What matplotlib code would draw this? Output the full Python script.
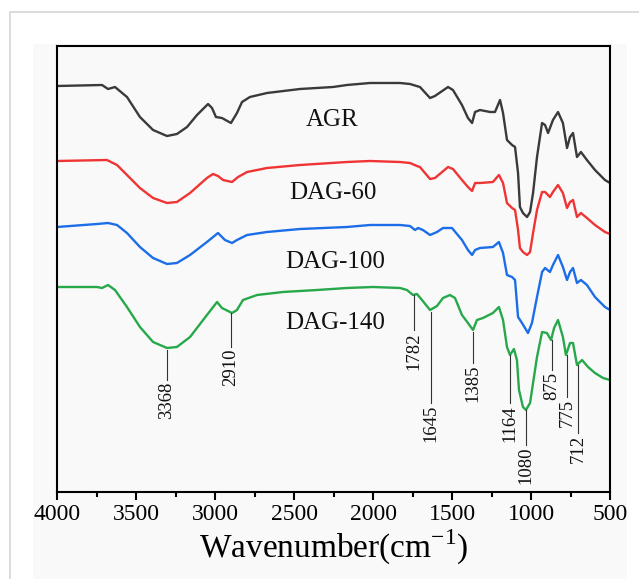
import matplotlib
matplotlib.use("Agg")
import matplotlib.pyplot as plt
from matplotlib.patches import Rectangle
from matplotlib.ticker import MultipleLocator

plt.rcParams['font.family'] = ['Liberation Serif', 'DejaVu Serif']

# FTIR spectra, wavenumber (cm-1) and offset transmittance (a.u.)
agr_wn = [4000, 3715, 3677, 3633, 3557, 3475, 3392, 3304, 3241, 3177,
          3114, 3044, 3019, 2994, 2956, 2899, 2861, 2829, 2779, 2671,
          2462, 2253, 2165, 2019, 1829, 1766, 1703, 1639, 1608, 1525,
          1494, 1437, 1399, 1373, 1354, 1323, 1259, 1228, 1196, 1177,
          1152, 1120, 1101, 1082, 1070, 1051, 1025, 1006, 987, 962,
          930, 911, 892, 861, 829, 798, 772, 753, 734, 709,
          684, 646, 595, 532, 500]
agr_t = [414, 415, 411, 413, 403, 383, 370, 364, 366, 373,
         385, 396, 392, 383, 382, 377, 387, 398, 403, 407,
         411, 413, 415, 417, 417, 416, 413, 402, 404, 413,
         410, 395, 382, 377, 388, 390, 388, 388, 400, 387,
         360, 355, 353, 327, 293, 287, 283, 288, 307, 343,
         377, 375, 367, 380, 388, 377, 352, 363, 367, 343,
         348, 340, 330, 320, 317]

dag60_wn = [4000, 3684, 3620, 3557, 3475, 3392, 3304, 3241, 3158, 3051,
            3013, 2981, 2949, 2892, 2854, 2797, 2671, 2462, 2165, 2019,
            1829, 1766, 1722, 1703, 1639, 1608, 1525, 1494, 1437, 1399,
            1373, 1354, 1323, 1241, 1203, 1177, 1152, 1120, 1101, 1082,
            1070, 1051, 1025, 1006, 987, 962, 930, 911, 880, 861,
            829, 798, 772, 753, 734, 709, 684, 646, 595, 532, 500]
dag60_t = [339, 340, 335, 325, 312, 302, 297, 298, 307, 322,
           326, 324, 320, 318, 323, 328, 332, 335, 338, 339,
           338, 337, 334, 333, 321, 322, 333, 331, 320, 313,
           309, 317, 317, 318, 325, 317, 297, 292, 290, 270,
           252, 248, 245, 248, 267, 290, 308, 308, 303, 308,
           315, 307, 292, 298, 300, 283, 287, 282, 275, 268, 266]

dag100_wn = [4000, 3747, 3677, 3620, 3557, 3475, 3392, 3304, 3241, 3158,
             3051, 2981, 2937, 2892, 2861, 2797, 2671, 2462, 2165, 2019,
             1829, 1766, 1734, 1715, 1684, 1639, 1595, 1557, 1500, 1437,
             1399, 1373, 1354, 1323, 1241, 1203, 1177, 1152, 1120, 1101,
             1082, 1057, 1038, 1019, 994, 962, 930, 911, 880, 861,
             829, 798, 772, 753, 734, 709, 684, 646, 595, 532, 500]
dag100_t = [273, 276, 277, 275, 267, 253, 242, 236, 237, 245,
            258, 267, 260, 257, 260, 265, 268, 271, 273, 275,
            275, 274, 270, 272, 270, 265, 268, 272, 272, 260,
            250, 245, 250, 252, 253, 258, 247, 225, 223, 220,
            183, 177, 172, 167, 177, 203, 228, 232, 228, 235,
            245, 233, 220, 228, 232, 217, 220, 215, 203, 193, 190]

dag140_wn = [4000, 3747, 3715, 3677, 3633, 3557, 3475, 3392, 3304, 3241,
             3158, 3051, 2987, 2956, 2892, 2861, 2823, 2734, 2570, 2354,
             2165, 2000, 1829, 1785, 1747, 1722, 1690, 1639, 1595, 1557,
             1513, 1481, 1437, 1399, 1367, 1342, 1304, 1241, 1203, 1177,
             1152, 1133, 1108, 1089, 1076, 1051, 1032, 1006, 987, 962,
             930, 899, 873, 854, 829, 798, 779, 753, 734, 709,
             677, 639, 595, 544, 500]
dag140_t = [213, 213, 212, 215, 210, 193, 173, 158, 152, 153,
            163, 185, 198, 192, 187, 190, 200, 205, 208, 210,
            212, 213, 212, 210, 205, 206, 200, 190, 194, 202,
            205, 202, 185, 177, 170, 180, 182, 187, 193, 180,
            153, 145, 151, 140, 110, 93, 90, 97, 117, 143,
            168, 167, 160, 172, 180, 163, 145, 157, 157, 135,
            140, 133, 127, 122, 120]

# sample names and where they sit on the plot
sample_names = ['AGR', 'DAG-60', 'DAG-100', 'DAG-140']
name_wn = [2260, 2253, 2240, 2240]
name_t = [380, 307, 238, 177]

# peak markers on the DAG-140 curve
peak_labels = ['3368', '2910', '1782', '1645', '1385', '1164', '1080', '875', '775', '712']
peak_wn = [3304, 2899, 1741, 1633, 1367, 1133, 1032, 867, 772, 703]
peak_top = [150, 187, 205, 188, 168, 145, 90, 160, 145, 135]
peak_bottom = [120, 153, 170, 97, 137, 97, 55, 130, 103, 67]

colors = ['#3a3a3a', '#f03434', '#1c6ee8', '#27a84a']

fig = plt.figure(figsize=(6.39, 5.79), dpi=100)
fig.patch.set_facecolor('white')

# light frame and panel behind the plot
frame = Rectangle((10 / 639, -0.1), 1.2, 1 - 12 / 579 + 0.1, transform=fig.transFigure,
                  facecolor='none', edgecolor='#d6d6d6', linewidth=1.2, zorder=-2)
panel = Rectangle((33 / 639, -0.1), (627 - 33) / 639, 1 - 44 / 579 + 0.1, transform=fig.transFigure,
                  facecolor='#f9f9f9', edgecolor='none', zorder=-1)
fig.patches.extend([frame, panel])

ax = fig.add_axes([57 / 639, 1 - 492 / 579, (610 - 57) / 639, (492 - 46) / 579])
ax.set_zorder(1)
ax.set_facecolor('#f9f9f9')

spectra = [(agr_wn, agr_t), (dag60_wn, dag60_t), (dag100_wn, dag100_t), (dag140_wn, dag140_t)]
for (wn, t), c in zip(spectra, colors):
    ax.plot(wn, t, color=c, linewidth=1.7, solid_joinstyle='round')

for name, x, y in zip(sample_names, name_wn, name_t):
    ax.text(x, y, name, fontsize=18, ha='center', va='center', color='#111111')

for lab, x, y0, y1 in zip(peak_labels, peak_wn, peak_top, peak_bottom):
    ax.plot([x, x], [y0, y1], color='#333333', linewidth=0.8)
    ax.text(x, y1 - 2, lab, rotation=90, fontsize=13.5, ha='center', va='top', color='#111111')

ax.set_xlim(4000, 500)
ax.set_ylim(8, 454)
ax.xaxis.set_major_locator(MultipleLocator(500))
ax.xaxis.set_minor_locator(MultipleLocator(250))
ax.set_yticks([])
ax.tick_params(axis='x', which='major', direction='out', length=6, width=1.5, labelsize=17, pad=3)
ax.tick_params(axis='x', which='minor', direction='out', length=3.5, width=1.5)
for s in ax.spines.values():
    s.set_linewidth(1.5)

ax.set_xlabel(r'Wavenumber(cm$^{\mathregular{-1}}$)', fontsize=24, labelpad=2)

fig.savefig('out.png', dpi=100)
